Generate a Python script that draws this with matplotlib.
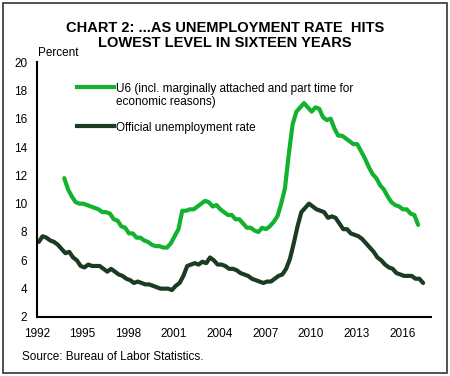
import numpy as np
import matplotlib
matplotlib.use("Agg")
import matplotlib.pyplot as plt
from matplotlib.patches import Rectangle

plt.rcParams['font.family'] = ['Liberation Sans', 'DejaVu Sans']

# quarterly readings (Q1..Q4), official rate from 1992, U6 from 1994
official = [
    7.3, 7.7, 7.6, 7.4,
    7.3, 7.1, 6.8, 6.5,
    6.6, 6.2, 6.0, 5.6,
    5.5, 5.7, 5.6, 5.6,
    5.6, 5.4, 5.2, 5.4,
    5.2, 5.0, 4.9, 4.7,
    4.6, 4.4, 4.5, 4.4,
    4.3, 4.3, 4.2, 4.1,
    4.0, 4.0, 4.0, 3.9,
    4.2, 4.4, 4.9, 5.6,
    5.7, 5.8, 5.7, 5.9,
    5.8, 6.2, 6.0, 5.7,
    5.7, 5.6, 5.4, 5.4,
    5.3, 5.1, 5.0, 4.9,
    4.7, 4.6, 4.5, 4.4,
    4.5, 4.5, 4.7, 4.9,
    5.0, 5.4, 6.1, 7.2,
    8.4, 9.4, 9.7, 10.0,
    9.8, 9.6, 9.5, 9.4,
    9.0, 9.1, 9.0, 8.6,
    8.2, 8.2, 7.9, 7.8,
    7.7, 7.5, 7.2, 6.9,
    6.6, 6.2, 6.0, 5.7,
    5.5, 5.4, 5.1, 5.0,
    4.9, 4.9, 4.9, 4.7,
    4.7, 4.4,
]
u6 = [
    11.8, 11.0, 10.5, 10.1,
    10.0, 10.0, 9.9, 9.8,
    9.7, 9.6, 9.4, 9.4,
    9.3, 8.9, 8.8, 8.4,
    8.3, 7.9, 7.9, 7.6,
    7.6, 7.4, 7.3, 7.1,
    7.0, 7.0, 6.9, 6.9,
    7.2, 7.7, 8.2, 9.5,
    9.5, 9.6, 9.6, 9.8,
    10.0, 10.2, 10.1, 9.8,
    9.9, 9.6, 9.4, 9.2,
    9.2, 8.9, 8.9, 8.6,
    8.3, 8.3, 8.1, 8.0,
    8.3, 8.2, 8.4, 8.7,
    9.1, 10.0, 11.1, 13.5,
    15.6, 16.5, 16.8, 17.1,
    16.8, 16.5, 16.8, 16.7,
    16.1, 15.9, 16.0, 15.3,
    14.8, 14.8, 14.6, 14.4,
    14.2, 14.2, 13.7, 13.2,
    12.6, 12.1, 11.8, 11.3,
    11.0, 10.5, 10.1, 9.9,
    9.8, 9.6, 9.6, 9.3,
    9.2, 8.5,
]
official_x = 1992 + np.arange(len(official)) / 4 + 0.125
u6_x = 1994 + np.arange(len(u6)) / 4 - 0.2

labels = ["U6 (incl. marginally attached and part time for\neconomic reasons)",
          "Official unemployment rate"]
colors = ["#12B22E", "#1B3B22"]
x_ticks = [1992, 1995, 1998, 2001, 2004, 2007, 2010, 2013, 2016]
y_ticks = list(range(2, 21, 2))

fig = plt.figure(figsize=(4.5, 3.76), dpi=100)
ax = fig.add_axes([0.082, 0.157, 0.876, 0.678])

ax.plot(u6_x, u6, color=colors[0], lw=3, solid_capstyle="round")
ax.plot(official_x, official, color=colors[1], lw=3, solid_capstyle="round")

ax.set_xlim(1992, 2017.9)
ax.set_ylim(2, 20)
ax.set_xticks(x_ticks)
ax.set_yticks(y_ticks)
ax.tick_params(length=0, labelsize=8.5)
ax.tick_params(axis="x", pad=8)
ax.tick_params(axis="y", pad=7)
for s in ["top", "right"]:
    ax.spines[s].set_visible(False)
for s in ["left", "bottom"]:
    ax.spines[s].set_linewidth(1.5)

# legend drawn by hand so the key sits on the first line of the label
for lab, col, ly in zip(labels, colors, [0.902, 0.749]):
    ax.plot([0.102, 0.195], [ly, ly], color=col, lw=3, transform=ax.transAxes)
    ax.text(0.2005, ly + 0.016, lab, transform=ax.transAxes, fontsize=8.5,
            va="top", ha="left", linespacing=1.15)

fig.text(0.5, 0.905, "CHART 2: ...AS UNEMPLOYMENT RATE  HITS\nLOWEST LEVEL IN SIXTEEN YEARS",
         ha="center", va="center", fontsize=10.5, fontweight="bold", linespacing=1.05)
fig.text(0.084, 0.858, "Percent", fontsize=8.5, va="center")
fig.text(0.048, 0.05, "Source: Bureau of Labor Statistics.", fontsize=8.5, va="center")
fig.patches.append(Rectangle((0.006, 0.008), 0.988, 0.984, transform=fig.transFigure,
                             fill=False, edgecolor="#333333", lw=1.2))

fig.savefig("out.png", dpi=100)
